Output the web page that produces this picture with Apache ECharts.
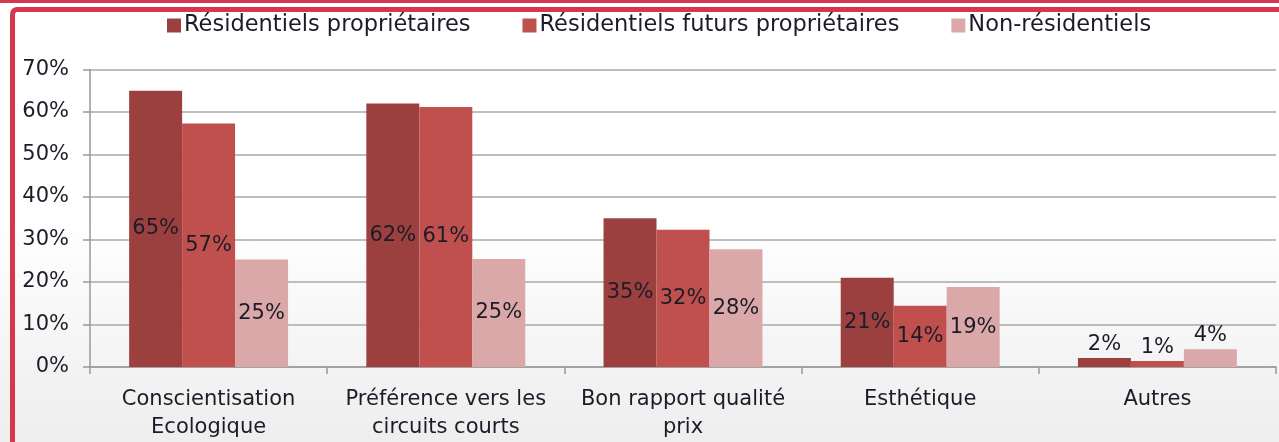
<!DOCTYPE html>
<html><head><meta charset="utf-8">
<script src="https://cdn.jsdelivr.net/npm/echarts@6/dist/echarts.min.js"></script>
<style>
html,body{margin:0;padding:0;width:1279px;height:442px;overflow:hidden;
background:linear-gradient(to bottom,#ffffff 0%,#ffffff 50%,#f6f6f6 75%,#eeeeee 100%);}
#topbar{position:absolute;left:0;top:0;width:1279px;height:3px;background:#d6364e;}
#frame{position:absolute;left:10px;top:7px;width:1300px;height:460px;border-left:5px solid #d6364e;border-top:5px solid #d6364e;border-top-left-radius:7px;}
#c{position:absolute;left:0;top:0;width:1279px;height:442px;}
</style></head>
<body>
<div id="topbar"></div>
<div id="frame"></div>
<div id="c"></div>
<script>
const categories = ['Conscientisation\nEcologique', 'Préférence vers les\ncircuits courts', 'Bon rapport qualité\nprix', 'Esthétique', 'Autres'];
const seriesNames = ['Résidentiels propriétaires', 'Résidentiels futurs propriétaires', 'Non-résidentiels'];
const proprietaires = [65, 62, 35, 21, 2.1];
const futursProprietaires = [57.3, 61.2, 32.3, 14.4, 1.4];
const nonResidentiels = [25.3, 25.4, 27.7, 18.8, 4.2];
const yTicks = [0, 10, 20, 30, 40, 50, 60, 70];
const colors = ['#9c403f', '#c0504d', '#daa8a8'];
const topLabelCategories = ['Autres'];

const FONT = 'DejaVu Sans';
const TXT = '#1c1c28';
const chart = echarts.init(document.getElementById('c'), null, {renderer: 'canvas'});

function mk(name, vals, i) {
  return {
    name: name, type: 'bar', barGap: '0%', barCategoryGap: '33%',
    itemStyle: {color: colors[i]},
    label: {show: true, position: 'inside', color: TXT, fontFamily: FONT, fontSize: 21,
      formatter: p => Math.round(p.value) + '%'},
    data: vals.map((v, k) => topLabelCategories.includes(categories[k])
      ? {value: v, label: {position: 'top', distance: 3}} : v)
  };
}

chart.setOption({
  animation: false,
  backgroundColor: 'transparent',
  legend: {
    top: 9, left: 162, itemWidth: 14, itemHeight: 14, itemGap: 52,
    icon: 'rect',
    textStyle: {color: TXT, fontFamily: FONT, fontSize: 22.5, padding: [0, 0, 0, -2]},
    data: seriesNames
  },
  grid: {left: 90, right: 3, top: 69.5, bottom: 75, containLabel: false},
  xAxis: {
    type: 'category', data: categories,
    axisLine: {lineStyle: {color: '#999', width: 1.5}},
    axisTick: {show: true, length: 7, lineStyle: {color: '#999', width: 1.5}},
    axisLabel: {color: TXT, fontFamily: FONT, fontSize: 21, margin: 19, lineHeight: 28, interval: 0}
  },
  yAxis: {
    type: 'value', min: yTicks[0], max: yTicks[yTicks.length - 1], interval: 10,
    axisLine: {show: true, lineStyle: {color: '#999', width: 1.5}},
    axisTick: {show: true, length: 7, lineStyle: {color: '#999', width: 1.5}},
    splitLine: {lineStyle: {color: '#a8a8a8', width: 1.5}},
    axisLabel: {color: TXT, fontFamily: FONT, fontSize: 21, margin: 21, formatter: '{value}%'}
  },
  series: [
    mk(seriesNames[0], proprietaires, 0),
    mk(seriesNames[1], futursProprietaires, 1),
    mk(seriesNames[2], nonResidentiels, 2)
  ]
});
</script>
</body></html>
